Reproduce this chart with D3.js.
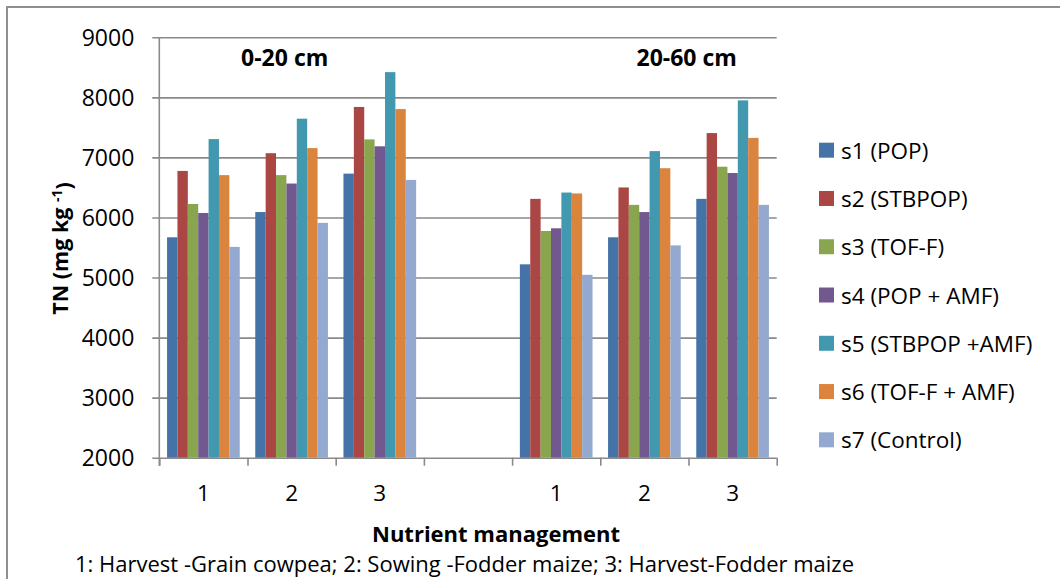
<!DOCTYPE html>
<html>
<head>
<meta charset="utf-8">
<script src="https://cdn.jsdelivr.net/npm/d3@7"></script>
<style>
  html, body { margin: 0; padding: 0; background: #ffffff; }
  svg { display: block; font-family: "Open Sans", "Noto Sans", sans-serif; }
</style>
</head>
<body>
<svg id="chart" width="1060" height="579"></svg>
<script>
// ---------- data ----------
const categories = ["1", "2", "3", "", "1", "2", "3"];
const seriesNames = ["s1 (POP)", "s2 (STBPOP)", "s3 (TOF-F)", "s4 (POP + AMF)",
                     "s5 (STBPOP +AMF)", "s6 (TOF-F + AMF)", "s7 (Control)"];
const s1 = [5670, 6090, 6730, null, 5220, 5670, 6310];
const s2 = [6775, 7070, 7840, null, 6310, 6500, 7405];
const s3 = [6225, 6705, 7300, null, 5775, 6210, 6845];
const s4 = [6075, 6565, 7185, null, 5820, 6090, 6740];
const s5 = [7305, 7645, 8420, null, 6415, 7105, 7950];
const s6 = [6705, 7155, 7805, null, 6400, 6820, 7325];
const s7 = [5510, 5910, 6625, null, 5045, 5535, 6210];
const seriesValues = [s1, s2, s3, s4, s5, s6, s7];
const yTicks = [2000, 3000, 4000, 5000, 6000, 7000, 8000, 9000];
const colors = ["#4572A7", "#AA4643", "#89A54E", "#71588F", "#4198AF", "#DB843D", "#93A9CF"];

// ---------- layout ----------
const svg = d3.select("#chart");
const pLeft = 159.3, pRight = 776.7, pTop = 37.3, pBottom = 457.7;
const gridColor = "#8a8a8a";

// outer border (extends beyond the frame on right and bottom)
svg.append("rect")
  .attr("x", 7).attr("y", 7).attr("width", 1080).attr("height", 600)
  .attr("fill", "none").attr("stroke", "#8f8f8f").attr("stroke-width", 2);

const y = d3.scaleLinear().domain([2000, 9000]).range([pBottom, pTop]);
const xb = d3.scaleBand().domain(d3.range(categories.length)).range([pLeft, pRight]).paddingInner(0).paddingOuter(0);
const bw = xb.bandwidth();
const inner = d3.scaleBand().domain(d3.range(seriesNames.length))
  .range([bw * 0.088, bw * 0.912]).paddingInner(0);

// grid + y labels
const yAxis = svg.append("g")
  .attr("transform", `translate(${pLeft - 7},0)`)
  .call(d3.axisLeft(y).tickValues(yTicks).tickSize(-(pRight - pLeft + 7)).tickPadding(18).tickFormat(d3.format("d")));
yAxis.select(".domain").remove();
yAxis.selectAll(".tick line").attr("stroke", gridColor).attr("stroke-width", 1.6);
yAxis.selectAll(".tick text").attr("fill", "#000").style("font-size", "23px")
  .attr("dy", "0.36em").style("font-family", "'Open Sans', sans-serif");

// bars
seriesValues.forEach((vals, si) => {
  svg.append("g").selectAll("rect")
    .data(vals.map((v, ci) => ({ v, ci })).filter(d => d.v != null))
    .join("rect")
    .attr("x", d => xb(d.ci) + inner(si))
    .attr("width", inner.bandwidth())
    .attr("y", d => y(d.v))
    .attr("height", d => y(2000) - y(d.v))
    .attr("fill", colors[si]);
});

// vertical axis line
svg.append("line").attr("x1", pLeft).attr("x2", pLeft).attr("y1", pTop).attr("y2", pBottom + 8)
  .attr("stroke", gridColor).attr("stroke-width", 1.6);

// x axis boundary ticks
const xLin = d3.scaleLinear().domain([0, categories.length]).range([pLeft, pRight]);
const xTickAxis = svg.append("g").attr("transform", `translate(0,${pBottom})`)
  .call(d3.axisBottom(xLin).tickValues(d3.range(categories.length + 1)).tickSize(8).tickFormat(""));
xTickAxis.select(".domain").remove();
xTickAxis.selectAll(".tick line").attr("stroke", gridColor).attr("stroke-width", 1.6);

// category labels
const xLab = svg.append("g").attr("transform", `translate(0,${pBottom})`)
  .call(d3.axisBottom(xb).tickSize(0).tickPadding(27).tickFormat(i => categories[i]));
xLab.select(".domain").remove();
xLab.selectAll(".tick text").attr("fill", "#000").style("font-size", "22.5px")
  .style("font-family", "'Open Sans', sans-serif");

// depth annotations
svg.append("text").attr("x", 284.7).attr("y", 66).attr("text-anchor", "middle")
  .style("font-weight", "bold").style("font-size", "23px").text("0-20 cm");
svg.append("text").attr("x", 686.7).attr("y", 66).attr("text-anchor", "middle")
  .style("font-weight", "bold").style("font-size", "23px").text("20-60 cm");

// y title
const yt = svg.append("text").attr("transform", "translate(68,248.5) rotate(-90)")
  .attr("text-anchor", "middle").style("font-weight", "bold").style("font-size", "21.5px");
yt.append("tspan").text("TN (mg kg ");
yt.append("tspan").attr("dy", "-0.45em").style("font-size", "14px").text("-1");
yt.append("tspan").attr("dy", "0.45em").text(")");

// x title
svg.append("text").attr("x", 496).attr("y", 541.5).attr("text-anchor", "middle")
  .style("font-weight", "bold").style("font-size", "22px").text("Nutrient management");

// footnote
svg.append("text").attr("x", 75).attr("y", 571.5)
  .style("font-size", "22px").text("1: Harvest -Grain cowpea; 2: Sowing -Fodder maize; 3: Harvest-Fodder maize");

// legend
const leg = svg.append("g").selectAll("g").data(seriesNames).join("g")
  .attr("transform", (d, i) => `translate(819,${142.7 + i * 48.27})`);
leg.append("rect").attr("width", 15).attr("height", 15).attr("fill", (d, i) => colors[i]);
leg.append("text").attr("x", 22).attr("y", 16).style("font-size", "22.5px").text(d => d);
</script>
</body>
</html>
